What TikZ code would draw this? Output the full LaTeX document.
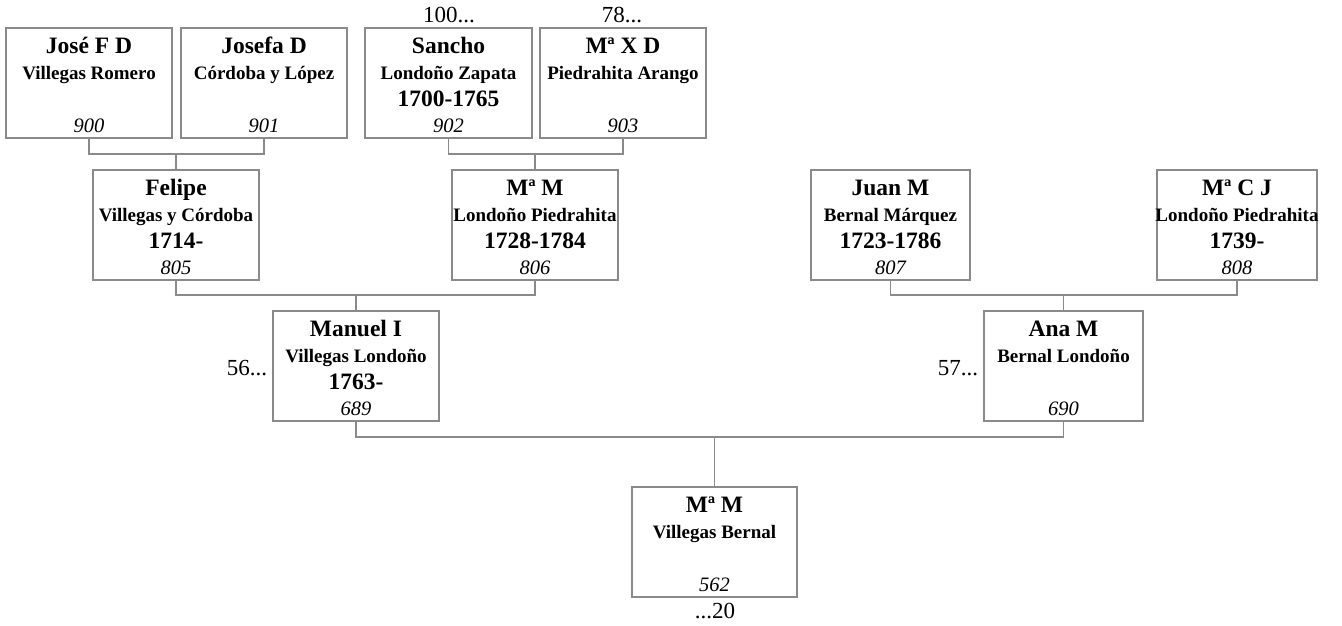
\documentclass[tikz,border=0pt]{standalone}
\usepackage{fontspec}
\setmainfont{Liberation Serif}
\definecolor{lc}{HTML}{8A8A8A}
\tikzset{
  pbox/.style={draw=lc, line width=1.1pt, minimum height=110pt, inner sep=0pt, fill=white},
  nm/.style={anchor=base, inner sep=0pt, font=\fontsize{23.5}{26}\selectfont\bfseries},
  sn/.style={anchor=base, inner sep=0pt, font=\fontsize{19}{22}\selectfont\bfseries},
  yr/.style={anchor=base, inner sep=0pt, font=\fontsize{23.5}{26}\selectfont\bfseries},
  no/.style={anchor=base, inner sep=0pt, font=\fontsize{20.5}{24}\selectfont\itshape},
  ex/.style={anchor=base, inner sep=0pt, font=\fontsize{23}{26}\selectfont},
  conn/.style={draw=lc, line width=1.1pt}
}
\newcommand\pbox[8]{%
  \node[pbox, minimum width=#4pt] (#1) at (#2,{#3+55}) {};
  \node[nm] (#1n) at (#2,{#3+25}) {#5};
  \node[sn] (#1s) at (#2,{#3+51}) {#6};
  \if\relax\detokenize{#7}\relax\else\node[yr] (#1y) at (#2,{#3+78}) {#7};\fi
  \node[no] (#1i) at (#2,{#3+104}) {#8};
}
\begin{document}
\begin{tikzpicture}[x=1pt,y=-1pt]
\useasboundingbox (0,0) rectangle (1342,625);
% boxes
\pbox{p900}{89}{28}{166}{José F D}{Villegas Romero}{}{900}
\pbox{p901}{264}{28}{166}{Josefa D}{Córdoba y López}{}{901}
\pbox{p902}{448.5}{28}{167}{Sancho}{Londoño Zapata}{1700-1765}{902}
\pbox{p903}{623}{28}{166}{Mª X D}{Piedrahita Arango}{}{903}
\pbox{p805}{176}{170}{166}{Felipe}{Villegas y Córdoba}{1714-}{805}
\pbox{p806}{535}{170}{166}{Mª M}{Londoño Piedrahita}{1728-1784}{806}
\pbox{p807}{890.5}{170}{159}{Juan M}{Bernal Márquez}{1723-1786}{807}
\pbox{p808}{1237}{170}{160}{Mª C J}{Londoño Piedrahita}{1739-}{808}
\pbox{p689}{356}{311}{166}{Manuel I}{Villegas Londoño}{1763-}{689}
\pbox{p690}{1063.5}{311}{159}{Ana M}{Bernal Londoño}{}{690}
\pbox{p562}{714.5}{487}{165}{Mª M}{Villegas Bernal}{}{562}
% junction coordinates
\coordinate (j1) at (176,154);
\coordinate (j2) at (535,154);
\coordinate (j3) at (356,295);
\coordinate (j4) at (1063.5,295);
\coordinate (j5) at (714.5,437);
% connectors
\draw[conn] (p900.south) |- (j1) -| (p901.south);
\draw[conn] (p902.south) |- (j2) -| (p903.south);
\draw[conn] (j1) -- (p805.north);
\draw[conn] (j2) -- (p806.north);
\draw[conn] (p805.south) |- (j3) -| (p806.south);
\draw[conn] (p807.south) |- (j4) -| (p808.south);
\draw[conn] (j3) -- (p689.north);
\draw[conn] (j4) -- (p690.north);
\draw[conn] (p689.south) |- (j5) -| (p690.south);
\draw[conn] (j5) -- (p562.north);
% outside labels
\node[ex] (l100) at (449,22) {100...};
\node[ex] (l78) at (622,22) {78...};
\node[ex] (l56) at (247,375) {56...};
\node[ex] (l57) at (958,375) {57...};
\node[ex] (l20) at (715,618) {...20};
\end{tikzpicture}
\end{document}
